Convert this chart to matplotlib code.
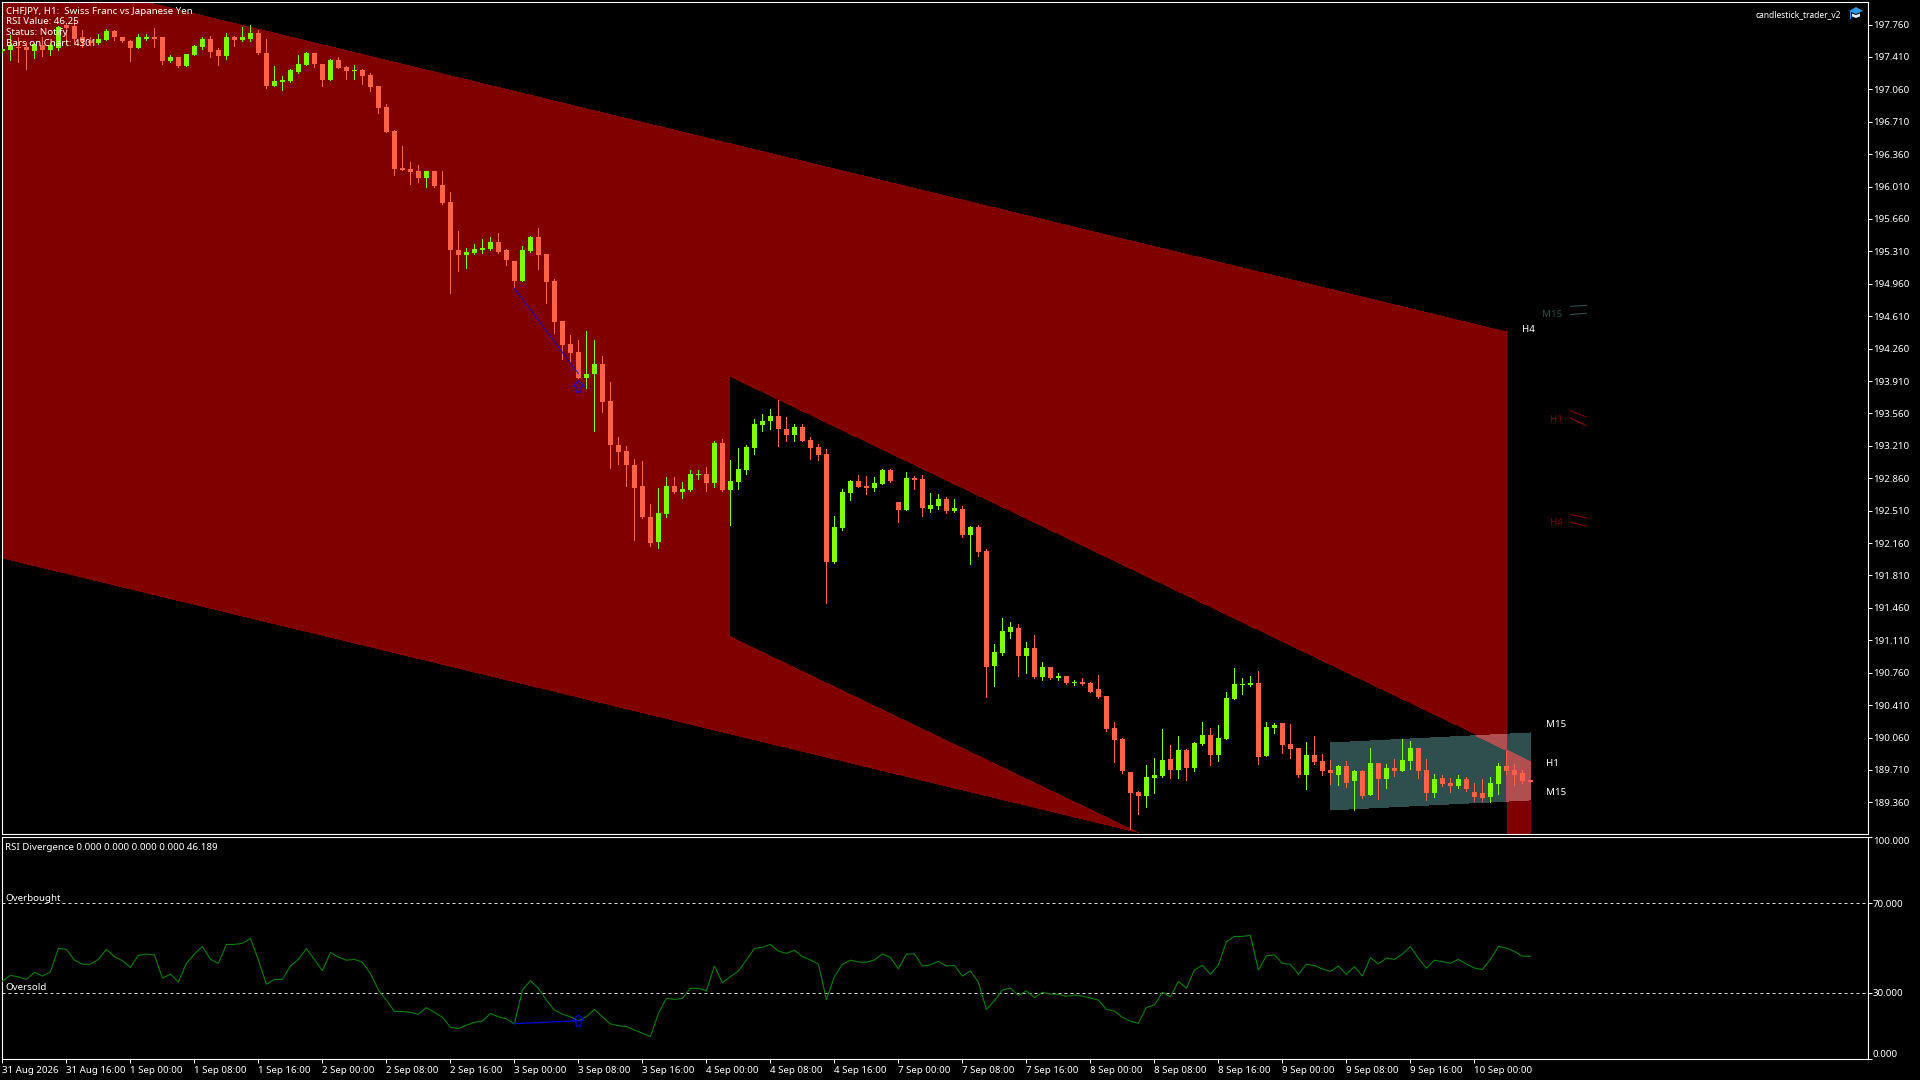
import matplotlib
matplotlib.use("Agg")
import matplotlib.pyplot as plt
import numpy as np
from matplotlib.patches import Polygon
from matplotlib.path import Path

W, H = 1920, 1080
FONT = "Noto Sans"
plt.rcParams["font.family"] = FONT

opens = [197.47,197.49,197.52,197.52,197.47,197.54,197.49,197.51,197.75,197.74,
197.63,197.58,197.56,197.59,197.69,197.63,197.58,197.51,197.60,197.63,
197.62,197.37,197.41,197.31,197.43,197.52,197.60,197.48,197.42,197.62,
197.59,197.60,197.67,197.45,197.10,197.14,197.15,197.25,197.32,197.45,
197.33,197.16,197.38,197.30,197.26,197.27,197.22,197.10,196.87,196.61,
196.21,196.20,196.18,196.10,196.18,196.03,195.84,195.33,195.27,195.29,
195.33,195.34,195.41,195.32,195.21,194.99,195.31,195.46,195.28,194.99,
194.56,194.31,194.22,193.94,193.99,194.09,193.69,193.22,193.15,193.00,
192.78,192.44,192.17,192.47,192.78,192.71,192.73,192.90,192.91,192.81,
193.24,192.73,192.82,192.95,193.19,193.44,193.48,193.53,193.39,193.33,
193.41,193.27,193.20,193.12,191.96,192.32,192.70,192.83,192.78,192.75,
192.80,192.95,192.60,192.52,192.86,192.85,192.53,192.56,192.64,192.51,
192.53,192.25,192.33,192.07,190.83,190.97,191.20,191.24,190.94,191.03,
190.71,190.82,190.70,190.72,190.65,190.66,190.65,190.58,190.51,190.16,
190.04,189.69,189.47,189.43,189.62,189.64,189.83,189.71,189.93,189.73,
189.99,190.09,189.87,190.04,190.48,190.63,190.63,190.65,189.86,190.16,
190.22,189.99,189.95,189.66,189.87,189.81,189.71,189.66,189.75,189.59,
189.70,189.44,189.78,189.61,189.73,189.70,189.81,189.95,189.71,189.46,
189.62,189.57,189.54,189.61,189.47,189.46,189.42,189.56,189.75,189.71,
189.68,189.60]

highs = [197.50,197.65,197.62,197.57,197.56,197.63,197.56,197.74,197.78,197.81,
197.70,197.62,197.66,197.71,197.70,197.63,197.59,197.66,197.66,197.72,
197.62,197.43,197.41,197.44,197.54,197.63,197.64,197.51,197.67,197.64,
197.73,197.76,197.70,197.60,197.31,197.20,197.28,197.43,197.46,197.45,
197.33,197.39,197.41,197.31,197.32,197.28,197.24,197.10,196.90,196.62,
196.45,196.27,196.24,196.18,196.18,196.18,195.95,195.53,195.35,195.39,
195.44,195.47,195.51,195.34,195.21,195.37,195.48,195.56,195.28,195.01,
194.56,194.41,194.35,194.45,194.35,194.18,193.90,193.30,193.21,193.07,
193.05,192.58,192.76,192.87,192.87,192.82,192.95,192.95,192.98,193.26,
193.28,193.06,193.19,193.22,193.50,193.55,193.61,193.70,193.52,193.45,
193.45,193.30,193.23,193.18,192.45,192.74,192.84,192.89,192.88,192.87,
192.96,192.96,192.60,192.93,192.88,192.89,192.70,192.69,192.66,192.64,
192.56,192.34,192.35,192.10,191.07,191.35,191.31,191.29,191.09,191.17,
190.88,190.82,190.76,190.72,190.68,190.70,190.66,190.74,190.51,190.23,
190.05,189.69,189.48,189.76,189.84,190.15,189.98,190.08,189.94,190.01,
190.23,190.16,190.20,190.55,190.81,190.70,190.72,190.78,190.23,190.22,
190.22,190.21,189.95,190.01,190.08,189.88,189.82,189.76,189.81,189.71,
189.71,189.95,189.79,189.77,189.83,190.04,190.02,189.95,189.83,189.67,
189.66,189.62,189.66,189.63,189.57,189.61,189.63,189.78,189.91,189.77,
189.71,189.60]

lows = [197.46,197.38,197.35,197.28,197.40,197.42,197.43,197.49,197.57,197.56,
197.52,197.54,197.55,197.59,197.59,197.57,197.37,197.51,197.59,197.52,
197.33,197.35,197.30,197.31,197.43,197.50,197.41,197.32,197.39,197.53,
197.58,197.58,197.44,197.07,197.10,197.05,197.14,197.24,197.32,197.30,
197.10,197.16,197.29,197.17,197.17,197.12,197.04,196.80,196.60,196.13,
196.19,196.04,196.06,196.00,196.00,195.82,194.86,195.10,195.13,195.28,
195.29,195.33,195.29,195.16,194.91,194.99,195.30,195.12,194.75,194.43,
194.15,194.12,193.94,193.83,193.37,193.57,192.97,193.01,192.78,192.19,
192.43,192.13,192.11,192.44,192.70,192.65,192.72,192.85,192.72,192.77,
192.72,192.36,192.74,192.91,193.12,193.37,193.39,193.21,193.26,193.26,
193.26,193.07,193.06,191.51,191.94,192.30,192.63,192.77,192.69,192.72,
192.80,192.82,192.39,192.52,192.74,192.45,192.50,192.53,192.49,192.50,
192.23,191.93,192.02,190.50,190.62,190.95,191.14,190.72,190.76,190.70,
190.68,190.69,190.68,190.64,190.63,190.63,190.55,190.49,190.13,189.80,
189.68,189.07,189.23,189.31,189.46,189.63,189.62,189.62,189.60,189.70,
189.98,189.76,189.81,190.04,190.48,190.53,190.62,189.77,189.86,190.11,
189.89,189.84,189.63,189.50,189.77,189.66,189.56,189.55,189.53,189.28,
189.41,189.44,189.40,189.51,189.64,189.70,189.72,189.62,189.39,189.42,
189.54,189.47,189.51,189.48,189.37,189.37,189.36,189.45,189.67,189.55,
189.57,189.58]

closes = [197.50,197.54,197.51,197.49,197.55,197.49,197.54,197.73,197.72,197.60,
197.57,197.56,197.60,197.69,197.62,197.58,197.51,197.62,197.63,197.60,
197.37,197.41,197.31,197.44,197.53,197.60,197.46,197.42,197.62,197.59,
197.62,197.67,197.45,197.10,197.15,197.16,197.27,197.33,197.45,197.33,
197.16,197.38,197.29,197.26,197.27,197.20,197.09,196.86,196.60,196.20,
196.19,196.17,196.10,196.18,196.02,195.83,195.33,195.27,195.30,195.34,
195.35,195.41,195.30,195.22,194.99,195.33,195.46,195.27,194.98,194.55,
194.30,194.21,193.94,193.99,194.09,193.68,193.22,193.14,193.00,192.75,
192.44,192.16,192.49,192.78,192.71,192.74,192.91,192.91,192.81,193.24,
192.73,192.83,192.96,193.20,193.45,193.48,193.53,193.39,193.33,193.41,
193.26,193.19,193.11,191.96,192.33,192.71,192.83,192.77,192.75,192.81,
192.95,192.83,192.52,192.86,192.84,192.54,192.57,192.64,192.51,192.54,
192.25,192.33,192.06,190.82,190.98,191.21,191.25,190.94,191.03,190.71,
190.82,190.70,190.72,190.65,190.66,190.64,190.55,190.50,190.15,190.03,
189.70,189.46,189.43,189.63,189.66,189.82,189.71,189.93,189.73,190.00,
190.09,189.87,190.06,190.49,190.64,190.64,190.65,189.85,190.17,190.20,
189.98,189.94,189.66,189.87,189.80,189.70,189.68,189.75,189.57,189.70,
189.43,189.78,189.61,189.73,189.70,189.82,189.95,189.70,189.46,189.61,
189.56,189.54,189.61,189.50,189.42,189.41,189.57,189.75,189.70,189.66,
189.59,189.58]

rsi = [35.1,37.7,37.0,35.9,39.1,37.4,39.2,49.8,49.4,44.6,
42.7,42.7,44.9,49.4,46.1,44.3,41.3,46.7,47.3,46.9,
36.4,38.3,34.7,43.1,47.3,50.7,44.9,43.1,51.6,51.6,
52.1,54.3,44.6,33.7,35.9,35.9,41.9,44.9,49.7,44.9,
39.8,48.0,45.9,44.5,44.9,43.6,38.6,31.1,26.6,21.5,
21.5,21.1,20.2,23.2,21.1,18.9,14.4,13.8,15.3,16.6,
17.2,20.6,19.1,18.2,15.9,31.1,35.3,31.9,26.6,22.1,
20.3,19.1,17.3,19.1,22.4,19.1,15.9,15.1,14.7,13.2,
11.7,10.2,20.6,27.4,26.9,27.4,31.9,31.9,30.8,41.9,
34.4,37.1,39.7,44.6,49.8,50.3,51.6,48.6,47.6,49.0,
46.1,44.6,42.8,26.9,37.1,42.7,44.5,43.7,43.6,44.6,
47.3,45.8,40.6,47.3,47.3,41.9,42.4,44.0,41.9,42.2,
37.4,39.7,34.6,22.4,26.3,31.1,32.0,28.7,30.7,27.8,
30.1,29.3,29.2,28.3,28.9,28.4,27.5,26.6,22.4,21.7,
18.9,17.1,16.2,23.3,24.4,30.1,28.1,35.0,31.9,40.1,
42.2,38.2,42.4,52.8,55.2,55.2,55.7,40.1,46.5,46.9,
43.1,42.7,38.2,42.7,42.1,40.6,39.5,41.9,38.2,41.6,
37.4,45.7,42.8,45.5,44.9,47.3,50.6,45.4,40.9,44.5,
43.9,43.1,44.9,42.8,41.0,40.3,44.9,50.7,50.0,48.5,
46.3,46.3]

assert len(opens) == len(highs) == len(lows) == len(closes) == len(rsi) == 192

price_ticks = [197.76,197.41,197.06,196.71,196.36,196.01,195.66,195.31,194.96,194.61,194.26,193.91,
               193.56,193.21,192.86,192.51,192.16,191.81,191.46,191.11,190.76,190.41,190.06,189.71,189.36]
rsi_ticks = [100, 70, 30, 0]
time_labels = ["31 Aug 2026","31 Aug 16:00","1 Sep 00:00","1 Sep 08:00","1 Sep 16:00","2 Sep 00:00",
               "2 Sep 08:00","2 Sep 16:00","3 Sep 00:00","3 Sep 08:00","3 Sep 16:00","4 Sep 00:00",
               "4 Sep 08:00","4 Sep 16:00","7 Sep 00:00","7 Sep 08:00","7 Sep 16:00","8 Sep 00:00",
               "8 Sep 08:00","8 Sep 16:00","9 Sep 00:00","9 Sep 08:00","9 Sep 16:00","10 Sep 00:00"]
time_tick_bars = list(range(0, 192, 8))
info_lines = ["CHFJPY, H1:  Swiss Franc vs Japanese Yen", "RSI Value: 46.25", "Status: Notify", "Bars on Chart: 4301"]

# channels: (bar, price) anchors
h4_bars = [0, 188];   h4_upper = [198.378, 194.439]; h4_lower = [192.00, 188.076]
h1_bars = [91, 191];  h1_upper = [193.946, 189.799]; h1_lower = [191.160, 187.013]
m15_bars = [166, 191]; m15_upper = [190.001, 190.109]; m15_lower = [189.278, 189.386]
div_price_bars = [64, 72]; div_price = [194.91, 193.99]; arrow_price = 193.86
div_rsi_bars = [64, 72];   div_rsi = [16.0, 17.35];      arrow_rsi = 17.5

MAROON = "#800000"; TEAL = "#2F4F4F"; MIX = "#AF4F4F"
BULL = "#7FFF00"; BEAR = "#FF6347"

def line(bars, vals):
    m = (vals[1]-vals[0])/(bars[1]-bars[0])
    return lambda b: vals[0]+m*(b-bars[0])

h4u, h4l = line(h4_bars, h4_upper), line(h4_bars, h4_lower)
h1u, h1l = line(h1_bars, h1_upper), line(h1_bars, h1_lower)
mu, ml = line(m15_bars, m15_upper), line(m15_bars, m15_lower)

def cross(f, g):
    a, b = f(0)-g(0), (f(1)-f(0))-(g(1)-g(0))
    return -a/b

fig = plt.figure(figsize=(W/100, H/100), dpi=100, facecolor="black")
def axes_px(l, t, r, b):
    return fig.add_axes([l/W, 1-b/H, (r-l)/W, (b-t)/H], facecolor="black")
X0 = 2.4
def bar_of(px): return (px-X0)/8

ax = axes_px(2, 2, 1867.5, 834)
ax2 = axes_px(2, 836.7, 1867.5, 1059.3)
for a in (ax, ax2):
    a.set_xlim(bar_of(2), bar_of(1867.5))
    for s in a.spines.values():
        s.set_color("white"); s.set_linewidth(0.8)
ax.set_ylim(197.76-(834-24.5)/92.6, 197.76-(2-24.5)/92.6)
ax2.set_ylim(0, 100)

def poly(a, pts, color, z=1):
    a.add_patch(Polygon(pts, closed=True, facecolor=color, edgecolor="none", antialiased=False, zorder=z))

poly(ax, [(91,h1u(91)),(191,h1u(191)),(191,h1l(191)),(91,h1l(91))], MAROON, 1)
poly(ax, [(0,h4u(0)),(188,h4u(188)),(188,h4l(188)),(0,h4l(0))], MAROON, 1.1)
bx = cross(h1l, h4l)
poly(ax, [(91,h1u(91)),(188,h1u(188)),(188,h4l(188)),(bx,h4l(bx)),(91,h1l(91))], "black", 1.2)
poly(ax, [(166,mu(166)),(191,mu(191)),(191,ml(191)),(166,ml(166))], TEAL, 1.3)
cx = cross(h1u, mu)
poly(ax, [(cx,mu(cx)),(188,mu(188)),(188,h1u(188))], MIX, 1.4)
poly(ax, [(188,h1u(188)),(191,h1u(191)),(191,ml(191)),(188,ml(188))], MIX, 1.4)

idx = np.arange(192)
o, h, l, c = map(np.array, (opens, highs, lows, closes))
colors = np.where(c >= o, BULL, BEAR)
ax.vlines(idx, l, h, colors=colors, linewidth=0.72, antialiased=False, zorder=3)
ax.bar(idx, np.abs(c-o), bottom=np.minimum(o, c), width=0.6, color=colors, antialiased=False, linewidth=0, zorder=3.1)

arrow_marker = Path([(-1,0),(0,1),(1,0),(.45,0),(.45,-1),(-.45,-1),(-.45,0),(-1,0)], closed=True)
ax.plot(div_price_bars, div_price, color="#0000E0", lw=0.6, zorder=4)
ax.plot([72], [arrow_price], marker=arrow_marker, ms=8, mfc="none", mec="#0000FF", mew=0.7, zorder=4)
ax2.plot(div_rsi_bars, div_rsi, color="#0000E0", lw=0.9, zorder=4)
ax2.plot([72], [arrow_rsi], marker=arrow_marker, ms=8, mfc="none", mec="#0000FF", mew=0.7, zorder=4)

ax2.plot(idx, rsi, color="#008000", lw=0.8, zorder=3)
for lv in (70, 30):
    ax2.axhline(lv, color="#DDDDDD", lw=0.72, ls=(0, (3, 3)), zorder=2)

FS = 7.0
ax.set_yticks(price_ticks)
ax.set_yticklabels([f"{t:.3f}" for t in price_ticks], va="center_baseline")
ax.yaxis.tick_right()
ax.set_xticks([])
ax2.yaxis.tick_right()
ax2.set_yticks(rsi_ticks)
ax2.set_yticklabels([f"{t:.3f}" for t in rsi_ticks])
for t, v in zip(ax2.get_yticklabels(), rsi_ticks):
    t.set_va("top" if v == 100 else "bottom" if v == 0 else "center_baseline")
ax2.set_xticks(time_tick_bars)
ax2.set_xticklabels(time_labels, ha="left")
for a in (ax, ax2):
    a.tick_params(axis="y", colors="white", length=3, width=0.72, pad=0.8, labelsize=FS)
ax2.tick_params(axis="x", colors="white", length=3, width=0.72, pad=1.5, labelsize=FS)

def ftext(px, py, s, color="white", ha="left", fs=FS):
    fig.text(px/W, 1-py/H, s, color=color, ha=ha, va="center_baseline", fontsize=fs, zorder=10)

for s, yy in zip(info_lines, (10, 20.7, 31.7, 42.7)):
    ftext(6.5, yy, s)
ftext(5, 846, "RSI Divergence 0.000 0.000 0.000 0.000 46.189")
ftext(5.5, 897.7, "Overbought")
ftext(5.5, 986.7, "Oversold")
ftext(1755.7, 13.6, "candlestick_trader_v2", fs=6.1)

# channel labels
for b, p, s, col in [(190, 194.48, "H4", "white"), (193, 190.21, "M15", "white"), (193, 189.785, "H1", "white"),
                     (193, 189.48, "M15", "white"), (192.5, 194.634, "M15", TEAL),
                     (193.4, 193.51, "H1", MAROON), (193.4, 192.39, "H4", MAROON)]:
    ax.text(b, p, s, color=col, fontsize=FS, va="center_baseline", ha="left", zorder=6)

preview_bars = [196, 198]
previews = [([194.716, 194.727], TEAL), ([194.627, 194.642], TEAL),
            ([193.589, 193.521], MAROON), ([193.51, 193.427], MAROON),
            ([192.467, 192.432], MAROON), ([192.382, 192.344], MAROON)]
for vals, col in previews:
    ax.plot(preview_bars, vals, color=col, lw=0.8, zorder=5)

# graduation cap icon
def cap(pts, col):
    fig.add_artist(Polygon([(x/W, 1-y/H) for x, y in pts], closed=True, transform=fig.transFigure,
                           facecolor=col, edgecolor="none"))
cap([(1849,11),(1856,7),(1863,11),(1856,14)], "#2E9BE6")
cap([(1852,13.5),(1856,15),(1860,13.5),(1860,16.5),(1856,18),(1852,16.5)], "#DDEEFF")
cap([(1850,11),(1851,11),(1851,19),(1850,19)], "#2E9BE6")

fig.savefig("out.png", dpi=100, facecolor="black")
